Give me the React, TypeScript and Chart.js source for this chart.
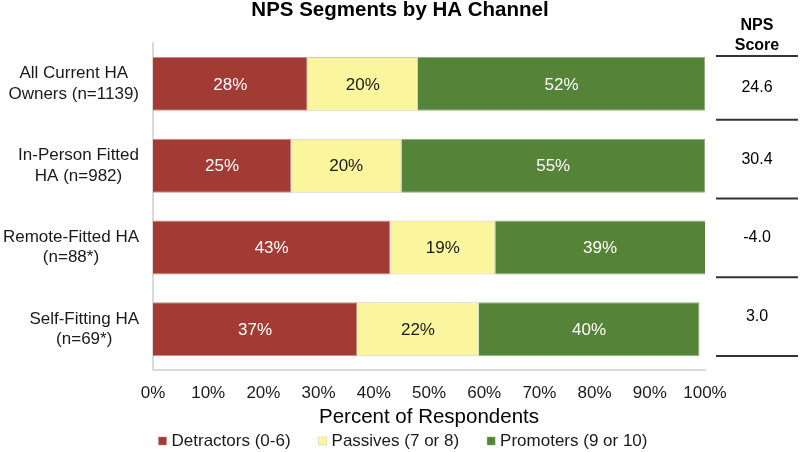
import { Chart, registerables } from "chart.js";
import { useEffect, useRef } from "react";

Chart.register(...registerables);

const categories = [
	["All Current HA", "Owners (n=1139)"],
	["In-Person Fitted", "HA (n=982)"],
	["Remote-Fitted HA", "(n=88*)"],
	["Self-Fitting HA", "(n=69*)"],
];
const detractors = [28, 25, 43, 37];
const passives = [20, 20, 19, 22];
const promoters = [52, 55, 39, 40];
const npsScores = ["24.6", "30.4", "-4.0", "3.0"];
const seriesNames = ["Detractors (0-6)", "Passives (7 or 8)", "Promoters (9 or 10)"];

const FONT = "'Liberation Sans', Arial, sans-serif";

// percentages written in the middle of each bar segment
const barLabels = {
	id: "barLabels",
	afterDatasetsDraw(chart: Chart) {
		const { ctx, chartArea } = chart;
		ctx.save();
		ctx.font = `17px ${FONT}`;
		ctx.textAlign = "center";
		ctx.textBaseline = "middle";
		chart.data.datasets.forEach((ds, di) => {
			const meta = chart.getDatasetMeta(di);
			meta.data.forEach((el: any, i) => {
				const a = Math.max(Math.min(el.x, el.base), chartArea.left);
				const b = Math.min(Math.max(el.x, el.base), chartArea.right);
				ctx.fillStyle = di === 1 ? "#1a1a1a" : "#ffffff";
				ctx.fillText(`${ds.data[i]}%`, (a + b) / 2, el.y + 1);
			});
		});
		ctx.restore();
	},
};

// category labels: each block right aligned, its lines centred on each other
const categoryLabels = {
	id: "categoryLabels",
	afterDraw(chart: Chart) {
		const { ctx, chartArea } = chart;
		const y = chart.scales.y;
		const right = chartArea.left - 14;
		const lh = 20.5;
		ctx.save();
		ctx.font = `17px ${FONT}`;
		ctx.fillStyle = "#1a1a1a";
		ctx.textAlign = "center";
		ctx.textBaseline = "middle";
		(chart.data.labels as string[][]).forEach((lines, i) => {
			const w = Math.max(...lines.map((l) => ctx.measureText(l).width));
			const cx = right - w / 2;
			const cy = y.getPixelForValue(i);
			lines.forEach((l, k) => {
				ctx.fillText(l, cx, cy + (k - (lines.length - 1) / 2) * lh);
			});
		});
		ctx.restore();
	},
};

// chart title, legend, and the NPS score column on the right
const extras = {
	id: "extras",
	afterDraw(chart: Chart) {
		const { ctx, chartArea } = chart;
		const y = chart.scales.y;
		ctx.save();
		ctx.fillStyle = "#000";
		ctx.textAlign = "center";
		ctx.textBaseline = "middle";
		ctx.font = `bold 20.5px ${FONT}`;
		ctx.fillText("NPS Segments by HA Channel", 400, 10);

		// legend
		ctx.font = `17px ${FONT}`;
		ctx.textAlign = "left";
		const box = 8;
		const gapBox = 5;
		const gapItem = 28;
		const items = chart.data.datasets.map((ds) => ({
			label: ds.label as string,
			color: ds.backgroundColor as string,
			border: ds.borderColor as string,
			w: ctx.measureText(ds.label as string).width,
		}));
		const total =
			items.reduce((s, it) => s + box + gapBox + it.w, 0) + gapItem * (items.length - 1);
		let x = 403 - total / 2;
		const ly = 441;
		items.forEach((it) => {
			ctx.fillStyle = it.color;
			ctx.fillRect(x, ly - box / 2, box, box);
			ctx.strokeStyle = it.border;
			ctx.lineWidth = 0.5;
			ctx.strokeRect(x, ly - box / 2, box, box);
			ctx.fillStyle = "#1a1a1a";
			ctx.fillText(it.label, x + box + gapBox, ly);
			x += box + gapBox + it.w + gapItem;
		});

		// NPS score column
		ctx.textAlign = "center";
		ctx.fillStyle = "#000";
		const cx = 757;
		ctx.font = `bold 16px ${FONT}`;
		ctx.fillText("NPS", cx, 26);
		ctx.fillText("Score", cx, 45.5);

		const lines = [chartArea.top + 13];
		for (let i = 1; i <= npsScores.length; i++) {
			lines.push(y.getPixelForValue(i - 0.5) - 5 - (i - 1) * 3);
		}
		ctx.strokeStyle = "#333";
		ctx.lineWidth = 2;
		lines.forEach((l) => {
			ctx.beginPath();
			ctx.moveTo(716, l);
			ctx.lineTo(798, l);
			ctx.stroke();
		});
		ctx.font = `16px ${FONT}`;
		npsScores.forEach((s, i) => {
			ctx.fillText(s, cx, (lines[i] + lines[i + 1]) / 2);
		});
		ctx.restore();
	},
};

const App = () => {
	const canvasRef = useRef<HTMLCanvasElement>(null);
	const chartRef = useRef<Chart | null>(null);

	useEffect(() => {
		document.body.style.margin = "0";
		if (canvasRef.current) {
			if (chartRef.current) chartRef.current.destroy();
			chartRef.current = new Chart(canvasRef.current, {
				type: "bar",
				data: {
					labels: categories,
					datasets: [
						{
							label: seriesNames[0],
							data: detractors,
							backgroundColor: "#A23B33",
							borderColor: "#c98d88",
							borderWidth: 1,
						},
						{
							label: seriesNames[1],
							data: passives,
							backgroundColor: "#FBF59E",
							borderColor: "#cfcdbb",
							borderWidth: 1,
						},
						{
							label: seriesNames[2],
							data: promoters,
							backgroundColor: "#558337",
							borderColor: "#90b07c",
							borderWidth: 1,
						},
					],
				},
				options: {
					indexAxis: "y",
					animation: false,
					responsive: false,
					maintainAspectRatio: false,
					datasets: {
						bar: { barPercentage: 0.66, categoryPercentage: 1 },
					},
					layout: { padding: { top: 43, right: 95, left: 0, bottom: 24 } },
					scales: {
						x: {
							stacked: true,
							min: 0,
							max: 100,
							ticks: {
								stepSize: 10,
								color: "#1a1a1a",
								font: { family: FONT, size: 17 },
								padding: 13,
								maxRotation: 0,
								callback: (v) => `${v}%`,
							},
							grid: { display: false, drawTicks: false },
							border: { color: "#d9d9d9", width: 2 },
							title: {
								display: true,
								text: "Percent of Respondents",
								color: "#000",
								font: { family: FONT, size: 20.5, lineHeight: 1 },
								padding: { top: -9, bottom: 0 },
							},
						},
						y: {
							stacked: true,
							ticks: { display: false },
							grid: { display: false, drawTicks: false },
							border: { color: "#d9d9d9", width: 2 },
							afterFit: (scale) => {
								scale.width = 153;
							},
						},
					},
					plugins: {
						title: { display: false },
						tooltip: { enabled: false },
						legend: { display: false },
					},
				},
				plugins: [barLabels, categoryLabels, extras],
			});
		}
		return () => {
			chartRef.current?.destroy();
		};
	}, []);

	return (
		<div style={{ width: 800, height: 452, background: "#fff" }}>
			<canvas ref={canvasRef} width={800} height={452} />
		</div>
	);
};

export default App;
